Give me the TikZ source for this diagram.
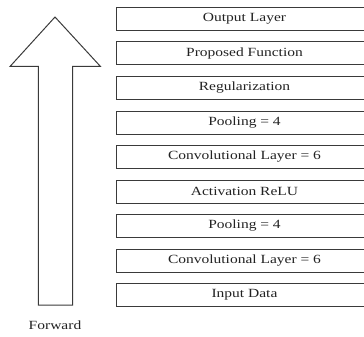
\documentclass[tikz,border=0pt]{standalone}
\usepackage{fontspec}
\usepackage{graphicx}
\setmainfont{Liberation Serif}
\definecolor{lc}{HTML}{3A3A3A}
\definecolor{tc}{HTML}{222222}
\newcommand{\wtxt}[1]{\scalebox{1.24}[1]{#1}}
\begin{document}
\begin{tikzpicture}[x=1pt,y=-1pt,
  layerbox/.style={draw=lc,line width=1pt,anchor=north west,minimum width=257pt,minimum height=23pt,inner sep=0pt,text=tc,font=\fontsize{12.5}{14}\selectfont},
  lbl/.style={text=tc,font=\fontsize{12.5}{14}\selectfont,inner sep=0pt}]
\useasboundingbox (0,0) rectangle (364,337);
\node[layerbox] (l1) at (115.5,7) {\wtxt{Output Layer}};
\node[layerbox] (l2) at (115.5,41.5) {\wtxt{Proposed Function}};
\node[layerbox] (l3) at (115.5,76) {\wtxt{Regularization}};
\node[layerbox] (l4) at (115.5,110.5) {\wtxt{Pooling = 4}};
\node[layerbox] (l5) at (115.5,145) {\wtxt{Convolutional Layer = 6}};
\node[layerbox] (l6) at (115.5,179.5) {\wtxt{Activation ReLU}};
\node[layerbox] (l7) at (115.5,214) {\wtxt{Pooling = 4}};
\node[layerbox] (l8) at (115.5,248.5) {\wtxt{Convolutional Layer = 6}};
\node[layerbox] (l9) at (115.5,283) {\wtxt{Input Data}};
\draw[lc,line width=1pt,line join=miter] (55,17) -- (100.5,66.5) -- (72.7,66.5) -- (72.7,305) -- (38.3,305) -- (38.3,66.5) -- (10,66.5) -- cycle;
\node[lbl] (fw) at (55,325) {\wtxt{Forward}};
\end{tikzpicture}
\end{document}
